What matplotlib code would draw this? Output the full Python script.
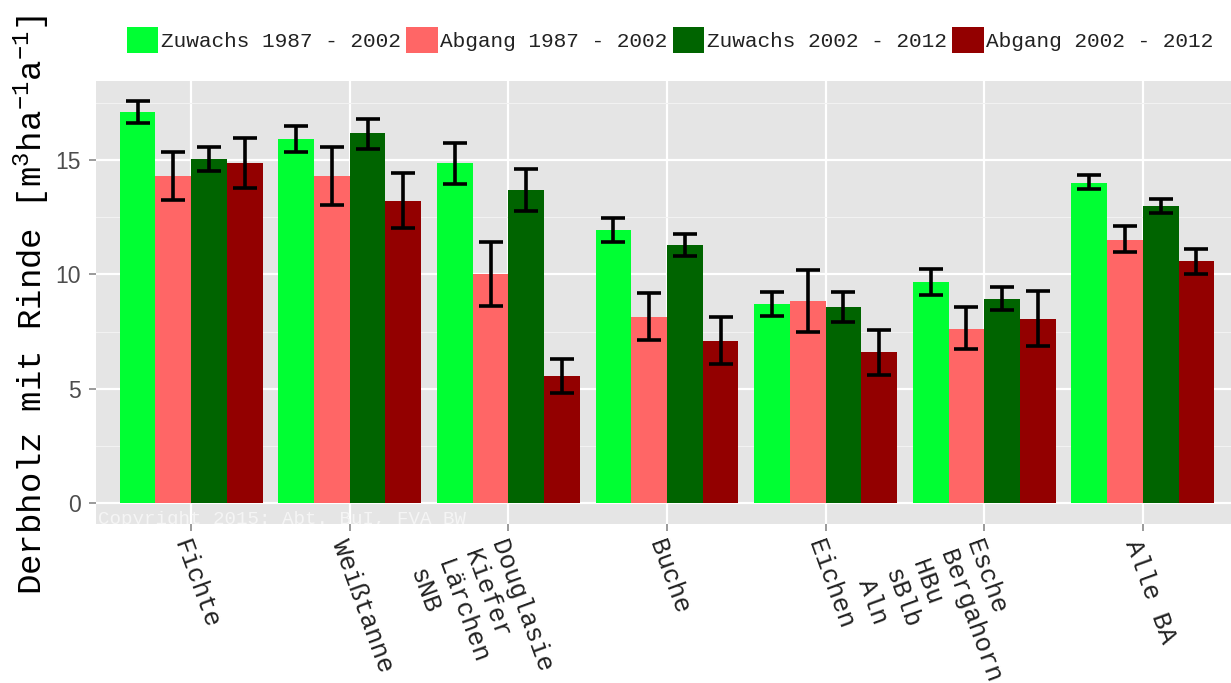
import numpy as np
import matplotlib.pyplot as plt
from matplotlib.patches import Patch
from matplotlib.ticker import MultipleLocator

plt.rcParams['font.family'] = ['Liberation Mono', 'DejaVu Sans Mono']
plt.rcParams['mathtext.default'] = 'regular'

# Baumartengruppen (x-Achse)
arten = ["Fichte", "Weißtanne", "Douglasie\nKiefer\nLärchen\nsNB", "Buche",
         "Eichen", "Esche\nBergahorn\nHBu\nsBlb\nAln", "Alle BA"]
reihen = ["Zuwachs 1987 - 2002", "Abgang 1987 - 2002",
          "Zuwachs 2002 - 2012", "Abgang 2002 - 2012"]
farben = ["#00FF33", "#FF6666", "#006400", "#930000"]

# Mittelwerte und Fehlerbalken (untere / obere Grenze)
zuw_87 = [17.09, 15.92, 14.87, 11.95, 8.72, 9.68, 14.00]
zuw_87_lo = [16.60, 15.36, 13.95, 11.42, 8.17, 9.10, 13.73]
zuw_87_hi = [17.57, 16.48, 15.75, 12.46, 9.25, 10.23, 14.32]

abg_87 = [14.30, 14.30, 10.03, 8.15, 8.85, 7.63, 11.51]
abg_87_lo = [13.26, 13.01, 8.60, 7.12, 7.47, 6.72, 10.96]
abg_87_hi = [15.35, 15.55, 11.41, 9.17, 10.19, 8.58, 12.09]

zuw_02 = [15.03, 16.18, 13.69, 11.29, 8.59, 8.94, 12.99]
zuw_02_lo = [14.51, 15.49, 12.76, 10.81, 7.94, 8.43, 12.68]
zuw_02_hi = [15.54, 16.79, 14.62, 11.74, 9.25, 9.45, 13.30]

abg_02 = [14.87, 13.21, 5.56, 7.11, 6.59, 8.07, 10.60]
abg_02_lo = [13.78, 12.02, 4.83, 6.07, 5.61, 6.88, 10.02]
abg_02_hi = [15.95, 14.42, 6.29, 8.15, 7.59, 9.28, 11.11]

werte = [zuw_87, abg_87, zuw_02, abg_02]
untere = [zuw_87_lo, abg_87_lo, zuw_02_lo, abg_02_lo]
obere = [zuw_87_hi, abg_87_hi, zuw_02_hi, abg_02_hi]

fig = plt.figure(figsize=(12.31, 6.83), dpi=100)
ax = fig.add_axes([96 / 1231, 1 - 524 / 683, (1238 - 96) / 1231, 443 / 683])
ax.set_facecolor("#E5E5E5")

x = np.arange(1, len(arten) + 1)
breite = 0.225
for i in range(4):
    pos = x + (i - 1.5) * breite
    w = np.array(werte[i])
    ax.bar(pos, w, width=breite, color=farben[i], zorder=2)
    err = [w - np.array(untere[i]), np.array(obere[i]) - w]
    ax.errorbar(pos, w, yerr=err, fmt="none", ecolor="black",
                elinewidth=2.6, capsize=8.4, capthick=2.6, zorder=3)

ax.set_xlim(0.4, 7.6)
ax.set_ylim(-0.9, 18.44)
ax.yaxis.set_major_locator(MultipleLocator(5))
ax.yaxis.set_minor_locator(MultipleLocator(2.5))
ax.set_xticks(x)
ax.set_xticklabels(arten)
ax.grid(which="major", color="white", linewidth=1.6, zorder=0)
ax.grid(which="minor", axis="y", color="#F2F2F2", linewidth=0.8, zorder=0)
ax.set_axisbelow(True)
for s in ax.spines.values():
    s.set_visible(False)

ax.tick_params(axis="y", which="major", length=5, width=1.1, color="#7F7F7F",
               pad=6, labelsize=16.5, labelcolor="#4D4D4D", labelfontfamily="Liberation Sans")
ax.tick_params(axis="y", which="minor", length=0)
ax.tick_params(axis="x", length=5, width=1.1, color="#7F7F7F", pad=4,
               labelsize=18.5, labelcolor="#222222")
plt.setp(ax.get_xticklabels(), rotation=-70, ha="left", va="top",
         rotation_mode="anchor", linespacing=1.25)

ax.set_ylabel(r"Derbholz mit Rinde [m$^{3}$ha$^{-1}$a$^{-1}$]", fontsize=24.5,
              color="black")
ax.yaxis.set_label_coords(-(96 - 52) / 1142, 0.495)

ax.text(0.41, -0.9, "Copyright 2015: Abt. BuI, FVA BW", fontsize=13.8,
        color="#F5F5F5", ha="left", va="baseline", zorder=4, clip_on=True)

griffe = [Patch(facecolor=f, edgecolor="none") for f in farben]
fig.legend(griffe, reihen, loc="center", bbox_to_anchor=(670 / 1231, 1 - 40 / 683),
           ncol=4, frameon=False, fontsize=15.2, handlelength=1.5, handleheight=1.5,
           handletextpad=0.12, columnspacing=0.25, borderpad=0, labelcolor="#222222")

fig.savefig("out.png", dpi=100)
